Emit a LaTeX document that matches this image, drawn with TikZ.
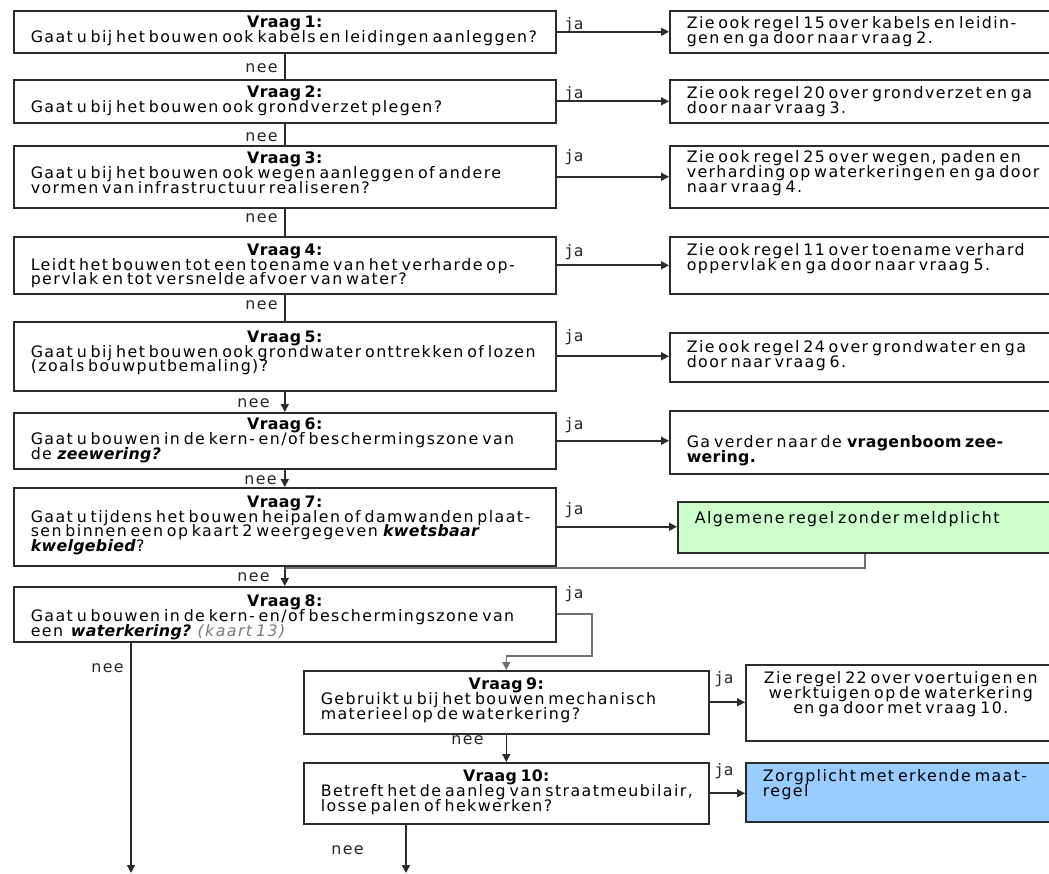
\documentclass[tikz,border=0pt]{standalone}
\usepackage{fontspec}
\setmainfont{DejaVu Sans}[LetterSpace=9,WordSpace=0.6,BoldFeatures={LetterSpace=2},BoldItalicFeatures={LetterSpace=2}]
\newfontfamily\jafont{DejaVu Sans Mono}
\usetikzlibrary{arrows.meta}
\newdimen\pxl \pxl=0.02cm
\definecolor{lijn}{HTML}{2B2B2B}
\definecolor{lijngrijs}{HTML}{707070}
\definecolor{groen}{HTML}{CCFFCC}
\definecolor{blauw}{HTML}{99CCFF}
\definecolor{kaartgrijs}{HTML}{7A7A7A}
\newcommand{\tekstfont}{\fontsize{9}{8.4}\selectfont}
\newcommand{\vakje}[4][7]{\parbox[t][#2\pxl][t]{#3\pxl}{\lineskiplimit=-\maxdimen\raggedright\leftskip=17\pxl\rightskip=-60\pxl plus 1fil\relax\vspace*{#1\pxl}#4}}
\newcommand{\titel}[1]{{\centering\bfseries #1\par}}
\begin{document}
\begin{tikzpicture}[x=0.02cm,y=-0.02cm,font=\tekstfont,
	vak/.style={draw=lijn,line width=0.9pt,fill=white,inner sep=0pt,anchor=north west},
	pijl/.style={-{Triangle[length=4.5pt,width=4.5pt]}},
	lbl/.style={inner sep=0pt,text=black!85}]
\useasboundingbox (0,0) rectangle (1049,874);
\clip (0,0) rectangle (1049,874);
\node[vak] (v1) at (13,10) {\vakje[5]{42}{542}{\titel{Vraag 1:}Gaat u bij het bouwen ook kabels en leidingen aanleggen?}};
\node[vak] (v2) at (13,79) {\vakje[6]{43}{542}{\titel{Vraag 2:}Gaat u bij het bouwen ook grondverzet plegen?}};
\node[vak] (v3) at (13,145) {\vakje[6]{62}{542}{\titel{Vraag 3:}Gaat u bij het bouwen ook wegen aanleggen of andere\\vormen van infrastructuur realiseren?}};
\node[vak] (v4) at (13,236) {\vakje{57}{542}{\titel{Vraag 4:}Leidt het bouwen tot een toename van het verharde op-\\pervlak en tot versnelde afvoer van water?}};
\node[vak] (v5) at (13,321) {\vakje[9]{69}{542}{\titel{Vraag 5:}Gaat u bij het bouwen ook grondwater onttrekken of lozen\\(zoals bouwputbemaling)?}};
\node[vak] (v6) at (13,412) {\vakje[5]{56}{542}{\titel{Vraag 6:}Gaat u bouwen in de kern- en/of beschermingszone van\\de \textbf{\textit{zeewering?}}}};
\node[vak] (v7) at (13,487) {\vakje[8]{78}{542}{\titel{Vraag 7:}Gaat u tijdens het bouwen heipalen of damwanden plaat-\\sen binnen een op kaart 2 weergegeven \textbf{\textit{kwetsbaar}}\\\textbf{\textit{kwelgebied}}?}};
\node[vak] (v8) at (13,586) {\vakje[8]{55}{542}{\titel{Vraag 8:}Gaat u bouwen in de kern- en/of beschermingszone van\\een \ \textbf{\textit{waterkering?}} {\color{kaartgrijs}\textit{(kaart 13)}}}};
\node[vak] (v9) at (303,670) {\vakje{63}{405}{\titel{Vraag 9:}Gebruikt u bij het bouwen mechanisch\\materieel op de waterkering?}};
\node[vak] (v10) at (303,762) {\vakje{61}{405}{\titel{Vraag 10:}Betreft het de aanleg van straatmeubilair,\\losse palen of hekwerken?}};
\node[vak] (r1) at (669,10) {\vakje[6]{42}{390}{Zie ook regel 15 over kabels en leidin-\\gen en ga door naar vraag 2.}};
\node[vak] (r2) at (669,79) {\vakje{43}{390}{Zie ook regel 20 over grondverzet en ga\\door naar vraag 3.}};
\node[vak] (r3) at (669,145) {\vakje[5]{62}{390}{Zie ook regel 25 over wegen, paden en\\verharding op waterkeringen en ga door\\naar vraag 4.}};
\node[vak] (r4) at (669,236) {\vakje{57}{390}{Zie ook regel 11 over toename verhard\\oppervlak en ga door naar vraag 5.}};
\node[vak] (r5) at (669,332) {\vakje[8]{49}{390}{Zie ook regel 24 over grondwater en ga\\door naar vraag 6.}};
\node[vak] (r6) at (669,410) {\vakje[25]{63}{390}{Ga verder naar de \textbf{vragenboom zee-}\\\textbf{wering.}}};
\node[vak,fill=groen] (r7) at (677,501) {\vakje[10]{51}{382}{Algemene regel zonder meldplicht}};
\node[vak] (r9) at (745,664) {\vakje{76}{310}{\centering Zie regel 22 over voertuigen en\\werktuigen op de waterkering\\en ga door met vraag 10.}};
\node[vak,fill=blauw] (r10) at (745,762) {\vakje{59}{314}{Zorgplicht met erkende maat-\\regel}};
\path (592,656) coordinate (knik) (865,568) coordinate (terug)
	(131,873) coordinate (eind1) (406,873) coordinate (eind2);
\begin{scope}[draw=lijn,line width=0.9pt]
\foreach \a/\b in {1/2,2/3,3/4,4/5}
	\draw (v\a.south) -- (v\b.north);
\foreach \a/\b in {5/6,6/7,7/8,9/10}
	\draw[pijl] (v\a.south) -- (v\b.north);
\foreach \i in {1,2,3,4,5,6,7,9,10}
	\draw[pijl] (v\i.east) -- (v\i.east -| r\i.west);
\draw[pijl] (v8.south -| eind1) -- (eind1);
\draw[pijl] (v10.south -| eind2) -- (eind2);
\draw[draw=lijngrijs] (r7.south -| terug) -- (terug) -- (terug -| v7.south);
\draw[draw=lijngrijs,pijl] (v8.east) -| (knik) -| (v9.north);
\end{scope}
\foreach \n/\x/\y in {1/278/68,2/278/137,3/278/218,4/278/305,5/270/403,6/277/480,7/270/577,8/124/668,9/484/740,10/364/850}
	\node[lbl,anchor=east] (nee\n) at (\x,\y) {nee};
\foreach \n/\x/\y in {1/564/25,2/564/94,3/564/157,4/564/252,5/564/337,6/564/425,7/564/510,8/564/594,9/714/679,10/714/771}
	\node[lbl,anchor=west,font={\tekstfont\jafont}] (ja\n) at (\x,\y) {ja};
\end{tikzpicture}
\end{document}
